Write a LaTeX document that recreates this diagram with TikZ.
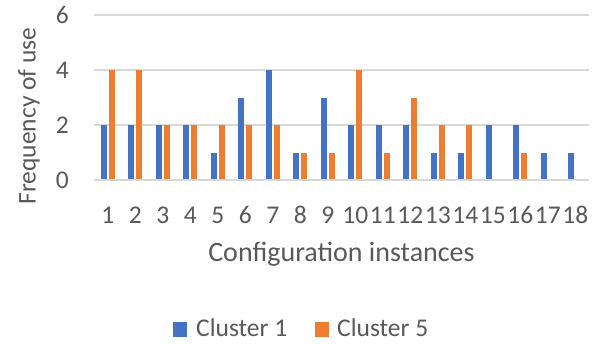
\documentclass[tikz,border=0pt]{standalone}
\usepackage{fontspec}
\setmainfont{Carlito}
\definecolor{clblue}{HTML}{4472C4}
\definecolor{clorange}{HTML}{ED7D31}
\definecolor{axisgray}{HTML}{595959}
\definecolor{gridgray}{HTML}{D9D9D9}
\tikzset{
	ticklabel/.style={text=axisgray, font=\fontsize{25.5}{28}\selectfont, inner sep=0pt},
	gridline/.style={draw=gridgray, line width=1.6pt},
}

\begin{document}
\begin{tikzpicture}[x=1pt, y=1pt]
			%%%%% START %%%%%
			\useasboundingbox (0, 0) rectangle (603, 345);
			
			% gridlines and y labels
			\foreach \v in {0, 2, 4, 6} {
				\draw[gridline] (94, {164.7+27.55*\v}) -- (589, {164.7+27.55*\v});
				\node[ticklabel, anchor=east] (ylab\v) at (69, {164.7+27.55*\v}) {\v};
			}
			
			% cluster 1
			\foreach \v [count=\i] in {2,2,2,2,1,3,4,1,3,2,2,2,1,1,2,2,1,1}
				\fill[clblue] ({94+27.5*(\i-0.5)-7}, 164.7) rectangle ++(6, {27.55*\v});
			
			% cluster 5
			\foreach \v [count=\i] in {4,4,2,2,2,2,2,1,1,4,1,3,2,2,0,1,0,0} {
				\ifnum\v>0 \fill[clorange] ({94+27.5*(\i-0.5)+1}, 164.7) rectangle ++(6, {27.55*\v}); \fi
			}
			
			\draw[gridline] (94, 164.7) -- (589, 164.7);
			
			% x labels
			\foreach \i in {1, ..., 18}
				\node[ticklabel] (xlab\i) at ({94+27.5*(\i-0.5)}, 130) {\i};
			
			\node[ticklabel, anchor=base, font=\fontsize{28}{30}\selectfont] (xtitle) at (341.5, 83) {Configuration instances};
			\node[ticklabel, rotate=90] (ytitle) at (29, 229) {Frequency of use};
			
			% legend
			\fill[clblue] (173, 8) rectangle (187, 23);
			\node[ticklabel, anchor=base west] (leg1) at (196, 8) {Cluster 1};
			\fill[clorange] (315, 8) rectangle (329, 23);
			\node[ticklabel, anchor=base west] (leg5) at (337, 8) {Cluster 5};
			
			%%%%% END %%%%%
\end{tikzpicture}
\end{document}
